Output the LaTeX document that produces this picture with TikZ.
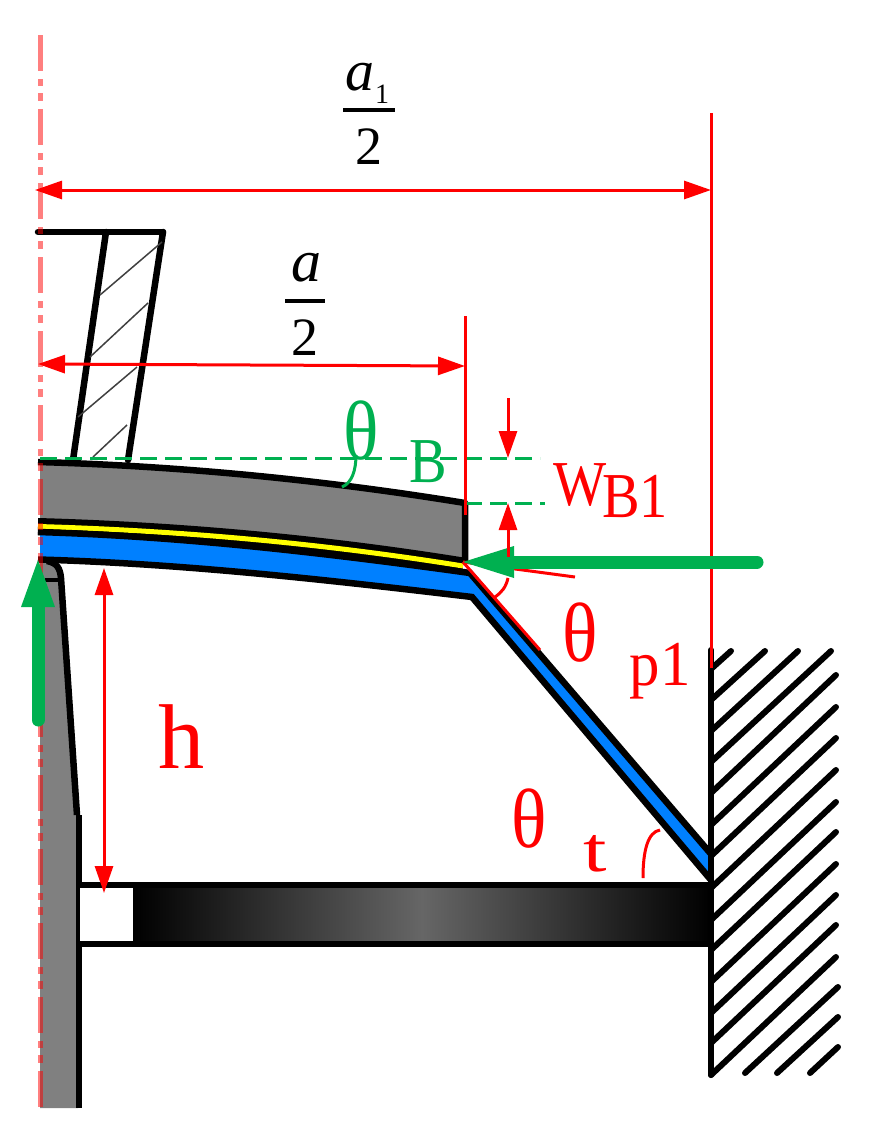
\documentclass[tikz,border=0pt]{standalone}
\usepackage{fontspec}
\setmainfont{Liberation Serif}
\usetikzlibrary{arrows.meta}
\definecolor{gr}{HTML}{00B050}
\definecolor{bl}{HTML}{0080FF}
\definecolor{yl}{HTML}{FFFF00}
\definecolor{pg}{HTML}{808080}
\tikzset{
  x=1pt,y=-1pt,
  outline/.style={draw=black,line width=6.5pt},
  hatchline/.style={black,line width=6pt,line cap=round},
  thinhatch/.style={draw=black!75,line width=1.5pt},
  dim/.style={red,line width=3pt},
  tipA/.style={-{Triangle[length=27pt,width=18pt]}},
  tipB/.style={{Triangle[length=27pt,width=18pt]}-{Triangle[length=27pt,width=18pt]}},
  gdash/.style={gr,line width=3.5pt,dash pattern=on 17pt off 8pt},
  bigarrow/.style={gr,line width=13pt,line cap=round},
  bighead/.style={fill=gr,draw=none},
  lab/.style={inner sep=0pt,anchor=base},
  redt/.style={lab,text=red,xscale=.88},
  grnt/.style={lab,text=gr,xscale=.88},
}
\newcommand{\fs}[1]{\fontsize{#1}{#1}\selectfont}
\begin{document}
\begin{tikzpicture}
\useasboundingbox (0,0) rectangle (872,1130);
\fill[white] (0,0) rectangle (872,1130);
% left column
\fill[pg] (40,555) -- (52,560) .. controls (58,563) and (61,568) .. (62,578) -- (78,815) -- (78,1108) -- (40,1108) -- cycle;
\draw[outline,line join=round] (47,561) .. controls (57,563) and (60,568) .. (61,578) -- (77,815);
\draw[black,line width=6pt] (79,815) -- (79,1108);
\draw[black,line width=4pt] (45,580) -- (61,580);
% bar
\fill[white] (80,885) rectangle (133,945);
\shade[left color=black,right color=black,middle color=black!60] (133,885) rectangle (711,945);
\draw[black,line width=6pt] (80,885) -- (711,885);
\draw[black,line width=6pt] (80,944) -- (711,944);
% upper gray plate
\fill[pg] (40,462) .. controls (181,466) and (324,480) .. (465,503) -- (465,558) .. controls (324,536.5) and (181,524) .. (40,520) -- cycle;
\draw[outline,line join=round] (38,462) .. controls (181,466) and (324,480) .. (465,503) -- (465,561);
% yellow layer
\draw[black,line width=17pt] (38,526.5) .. controls (181,530.5) and (324,543.6) .. (463,566);
\draw[yl,line width=5pt] (38,526.5) .. controls (181,530.5) and (324,543.6) .. (463,566);
% blue layer
\fill[bl] (40,533) .. controls (183,537) and (326,553) .. (470,574) -- (708,851) -- (708,876) -- (472,597) .. controls (328,580) and (184,563.6) .. (40,559) -- cycle;
\draw[black,line width=6.5pt] (38,532) .. controls (183,536.4) and (326,553) .. (470,573) -- (711,854);
\draw[black,line width=6.5pt] (38,559.5) .. controls (184,563.6) and (328,580) .. (472,597) -- (711,880);
% block with hatching
\draw[outline,line cap=round] (38,232) -- (163,232);
\draw[outline,line cap=round] (106,232) -- (73,460);
\draw[outline,line cap=round] (163,232) -- (128,460);
\draw[thinhatch] (162,242) -- (100,295);
\draw[thinhatch] (148,303) -- (90,357);
\draw[thinhatch] (137,367) -- (78,417);
\draw[thinhatch] (127,425) -- (93,457);
% wall
\draw[black,line width=6pt,line cap=round] (711,650) -- (711,1075);
\draw[hatchline] (711,669) -- (731,651);
\draw[hatchline] (711,700) -- (765,651);
\draw[hatchline] (711,731) -- (798,651);
\draw[hatchline] (711,762) -- (831,651);
\foreach \w in {793,825,856,888,920,950,982,1013,1043,1075}{
  \draw[hatchline] (711,\w) -- (836,\w-118);
}
\draw[hatchline] (745,1073) -- (838,987);
\draw[hatchline] (777,1073) -- (838,1017);
\draw[hatchline] (810,1073) -- (838,1047);
% centre line
\draw[red,opacity=.5,line width=5pt,dash pattern=on 36pt off 8pt on 7pt off 7pt on 8pt off 8pt] (40,35) -- (40,1108);
% green dashed
\draw[gdash] (40,458.5) -- (540,458.5);
\draw[gdash] (465,503.5) -- (545,503.5);
% dimensions
\draw[dim] (711,113) -- (711,668);
\draw[dim] (465,316) -- (465,515);
\draw[dim,tipB] (35,190) -- (711,190);
\draw[dim,tipB] (38,364) -- (465,366);
\draw[dim,tipB] (104,568) -- (104,893);
\draw[dim,tipA] (508,398) -- (508,458);
\draw[dim,tipA] (508,557) -- (508,503);
\draw[dim] (463,562) -- (575,577);
\draw[dim] (463,562) -- (540,650);
\draw[dim] (508,578) .. controls (506,587) and (502,592) .. (495,597);
\draw[dim] (643,878) .. controls (643,850) and (648,832) .. (660,830);
\draw[gr,line width=3pt] (356,455) .. controls (356,470) and (352,483) .. (342,487);
% green arrows
\draw[bigarrow] (757,562) -- (512,562);
\fill[bighead] (463,562) -- (514,546) -- (514,578) -- cycle;
\draw[bigarrow] (38,720) -- (38,605);
\fill[bighead] (38,560) -- (21,607) -- (55,607) -- cycle;
\draw[dim] (508,547) -- (508,557);
% labels
\node[lab] (a1) at (360,90) {\fs{58}\itshape a};
\node[lab] (a1s) at (382,103) {\fs{28}1};
\node[lab] (a1d) at (369,164) {\fs{54}2};
\draw[black,line width=4pt] (343,110) -- (395,110);
\node[lab] (a0) at (306,281) {\fs{60}\itshape a};
\node[lab] (a0d) at (305,355) {\fs{54}2};
\draw[black,line width=4pt] (285,301) -- (325,301);
\node[grnt] (thB) at (361,459) {\fs{84}θ};
\node[grnt] (B) at (428,482) {\fs{64}B};
\node[redt] (W) at (580,505) {\fs{64}W};
\node[redt] (B1) at (635,517) {\fs{64}B1};
\node[redt] (thp) at (580,661) {\fs{84}θ};
\node[redt,xscale=1.08] (p1) at (660,685) {\fs{64}p1};
\node[redt,xscale=1.14] (h) at (182,768) {\fs{92}h};
\node[redt] (tht) at (529,847) {\fs{84}θ};
\node[redt,xscale=1.5] (t) at (595,871) {\fs{64}t};
\end{tikzpicture}
\end{document}
